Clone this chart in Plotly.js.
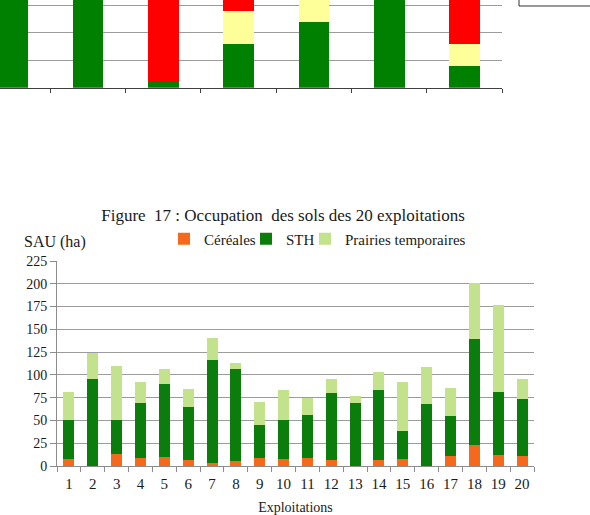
<!DOCTYPE html>
<html>
<head>
<meta charset="utf-8">
<script src="https://cdn.plot.ly/plotly-3.0.1.min.js"></script>
<style>
html,body{margin:0;padding:0;background:#fff;}
#chart{width:590px;height:515px;}
</style>
</head>
<body>
<div id="chart"></div>
<script>
// ---- Main chart data (Figure 17) ----
var exploitations = ["1","2","3","4","5","6","7","8","9","10","11","12","13","14","15","16","17","18","19","20"];
var cereales = [8, 0, 13, 9, 10, 7, 3, 5, 9, 8, 9, 7, 0, 7, 8, 0, 11, 23, 12, 11];
var sth      = [42, 95, 37, 60, 80, 58, 113, 101, 36, 42, 47, 73, 69, 76, 30, 68, 44, 116, 69, 62];
var prairies = [31, 29, 60, 23, 16, 19, 25, 7, 25, 33, 19, 15, 8, 20, 54, 41, 31, 62, 96, 22];
var seriesNames = ["Céréales", "STH", "Prairies temporaires"];
var yTicks = [0, 25, 50, 75, 100, 125, 150, 175, 200, 225];

// ---- Partial chart at the top (cropped, %) ----
var topCategories = ["1","2","3","4","5","6","7"];
var topGreen  = [100, 100, 5.5, 40, 60, 100, 19.5];
var topYellow = [0, 0, 0, 29.6, 40, 0, 20.6];
var topRed    = [0, 0, 94.5, 30.4, 0, 0, 59.9];

var W = 590, H = 515;
function px(x){ return x / W; }
function py(y){ return 1 - y / H; }

var FONT = "Liberation Serif";
var TXT = "#1a1a1a";

var traces = [
  {type:"bar", name:seriesNames[0], x:exploitations, y:cereales, xaxis:"x", yaxis:"y",
   marker:{color:"#f5691c", line:{width:0}}, width:0.46, legend:"legend"},
  {type:"bar", name:seriesNames[1], x:exploitations, y:sth, xaxis:"x", yaxis:"y",
   marker:{color:"#0b7d0b", line:{width:0}}, width:0.46, legend:"legend2"},
  {type:"bar", name:seriesNames[2], x:exploitations, y:prairies, xaxis:"x", yaxis:"y",
   marker:{color:"#c2e38b", line:{width:0}}, width:0.46, legend:"legend3"},
  {type:"bar", name:"top-green", x:topCategories, y:topGreen, xaxis:"x2", yaxis:"y2",
   marker:{color:"#008000", line:{width:0}}, width:0.407, showlegend:false},
  {type:"bar", name:"top-yellow", x:topCategories, y:topYellow, xaxis:"x2", yaxis:"y2",
   marker:{color:"#ffff99", line:{width:0}}, width:0.407, showlegend:false},
  {type:"bar", name:"top-red", x:topCategories, y:topRed, xaxis:"x2", yaxis:"y2",
   marker:{color:"#ff0000", line:{width:0}}, width:0.407, showlegend:false}
];

function legendAt(xText){
  return {orientation:"h", x:px(xText - 40), xanchor:"left", y:py(239), yanchor:"middle",
          font:{family:FONT, size:15, color:TXT}, bgcolor:"rgba(0,0,0,0)",
          itemwidth:30, borderwidth:0};
}

var layout = {
  width: W, height: H,
  margin:{l:0, r:0, t:0, b:0, pad:0},
  paper_bgcolor:"#ffffff", plot_bgcolor:"rgba(0,0,0,0)",
  font:{family:FONT, color:TXT, size:14},
  barmode:"stack",
  showlegend:true,
  title:{text:"Figure\u00a0 17 : Occupation\u00a0 des sols des 20 exploitations",
         x:px(283), xanchor:"center", xref:"paper",
         y:py(215), yanchor:"middle", yref:"paper",
         font:{family:FONT, size:17, color:TXT}},
  legend:legendAt(204),
  legend2:legendAt(286),
  legend3:legendAt(345),
  xaxis:{domain:[px(57), px(534)], anchor:"y", type:"category",
         showline:true, linecolor:"#8c8c8c", linewidth:1,
         ticks:"outside", tickson:"boundaries", ticklen:5, tickcolor:"#8c8c8c",
         showgrid:false, zeroline:false, tickangle:0, ticklabelstandoff:4,
         tickfont:{family:FONT, size:15, color:TXT},
         title:{text:"Exploitations", font:{family:FONT, size:14, color:TXT}, standoff:12},
         automargin:false, fixedrange:true},
  yaxis:{domain:[py(466), py(261)], anchor:"x", range:[0,225],
         tickvals:yTicks, ticktext:yTicks.map(String),
         showline:true, linecolor:"#8c8c8c", linewidth:1,
         ticks:"outside", ticklen:6, tickcolor:"#8c8c8c",
         showgrid:true, gridcolor:"#9c9c9c", gridwidth:1, zeroline:false,
         tickfont:{family:FONT, size:14, color:TXT},
         automargin:false, fixedrange:true},
  xaxis2:{domain:[0, px(502.3)], anchor:"y2", type:"category",
          range:[-0.167, 6.5],
          showline:true, linecolor:"#404040", linewidth:1,
          ticks:"outside", tickson:"boundaries", ticklen:4, tickcolor:"#404040",
          showticklabels:false, showgrid:false, zeroline:false,
          automargin:false, fixedrange:true},
  yaxis2:{domain:[py(87.7), 1], anchor:"x2", range:[0,80], dtick:25, tick0:0,
          showline:false, ticks:"", showticklabels:false,
          showgrid:true, gridcolor:"#9c9c9c", gridwidth:1, zeroline:false,
          automargin:false, fixedrange:true},
  annotations:[
    {text:"SAU (ha)", xref:"paper", yref:"paper", x:px(22), xanchor:"left",
     y:py(242), yanchor:"middle", showarrow:false,
     font:{family:FONT, size:16, color:TXT}}
  ],
  shapes:[
    {type:"rect", xref:"paper", yref:"paper", x0:px(519), x1:1.05, y0:py(6), y1:1.05,
     line:{color:"#333333", width:1}, fillcolor:"rgba(0,0,0,0)"}
  ]
};

Plotly.newPlot("chart", traces, layout, {displayModeBar:false, staticPlot:true});
</script>
</body>
</html>
